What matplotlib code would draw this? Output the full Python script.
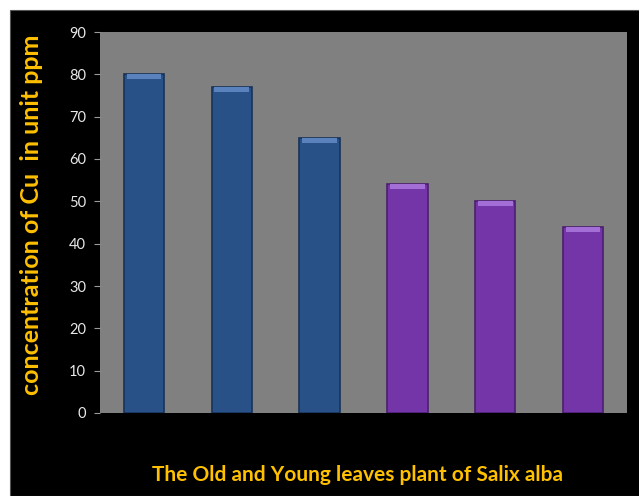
import matplotlib
matplotlib.use('Agg')
import matplotlib.pyplot as plt
import numpy as np
from matplotlib.patches import Rectangle

# Cu content in old and young leaves of Salix alba
samples = ['Old 1', 'Old 2', 'Old 3', 'Young 1', 'Young 2', 'Young 3']
cu_ppm = [80, 77, 65, 54, 50, 44]
leaf_group = ['old', 'old', 'old', 'young', 'young', 'young']

bar_colors = {'old': '#285188', 'young': '#7435a8'}
cap_colors = {'old': '#5a83bd', 'young': '#a36fd6'}
edge_colors = {'old': '#183357', 'young': '#4a1f70'}

plt.rcParams['font.family'] = ['Lato', 'DejaVu Sans']

fig = plt.figure(figsize=(6.39, 4.96), dpi=100)
fig.patch.set_facecolor('white')
# black panel behind the chart, leaving a thin white margin top/left
fig.patches.append(Rectangle((10 / 639, 0), 1, 1 - 10 / 496,
                             transform=fig.transFigure, facecolor='black',
                             edgecolor='#555555', linewidth=0.8, zorder=-10))

ax = fig.add_axes([100 / 639, 83 / 496, 527 / 639, 381 / 496])
ax.set_zorder(1)
ax.set_facecolor('#808080')

x = np.arange(len(samples))
barWidth = 0.46
colors = [bar_colors[g] for g in leaf_group]
edges = [edge_colors[g] for g in leaf_group]
ax.bar(x, cu_ppm, width=barWidth, color=colors, edgecolor=edges,
       linewidth=1.2, zorder=2)

# bevelled top of each bar
cap = 1.2
ax.bar(x, [cap] * len(x), bottom=[v - cap for v in cu_ppm],
       width=barWidth * 0.86, color=[cap_colors[g] for g in leaf_group],
       linewidth=0, zorder=3)

ax.set_xlim(-0.5, len(samples) - 0.5)
ax.set_ylim(0, 90)
ax.set_yticks(range(0, 91, 10))
ax.set_xticks([])
ax.tick_params(axis='y', colors='#9a9a9a', labelcolor='#e8e8e8',
               labelsize=10.5, length=4, width=0.8, pad=6)
for s in ax.spines.values():
    s.set_visible(False)

ax.set_ylabel('concentration of Cu  in unit ppm', color='#ffc000',
              fontsize=18, fontweight='bold')
ax.yaxis.set_label_coords(-0.108, 0.52)
ax.set_xlabel('The Old and Young leaves plant of Salix alba',
              color='#ffc000', fontsize=15, fontweight='bold')
ax.xaxis.set_label_coords(0.488, -0.137)

fig.savefig('out.png', dpi=100, facecolor=fig.get_facecolor())
